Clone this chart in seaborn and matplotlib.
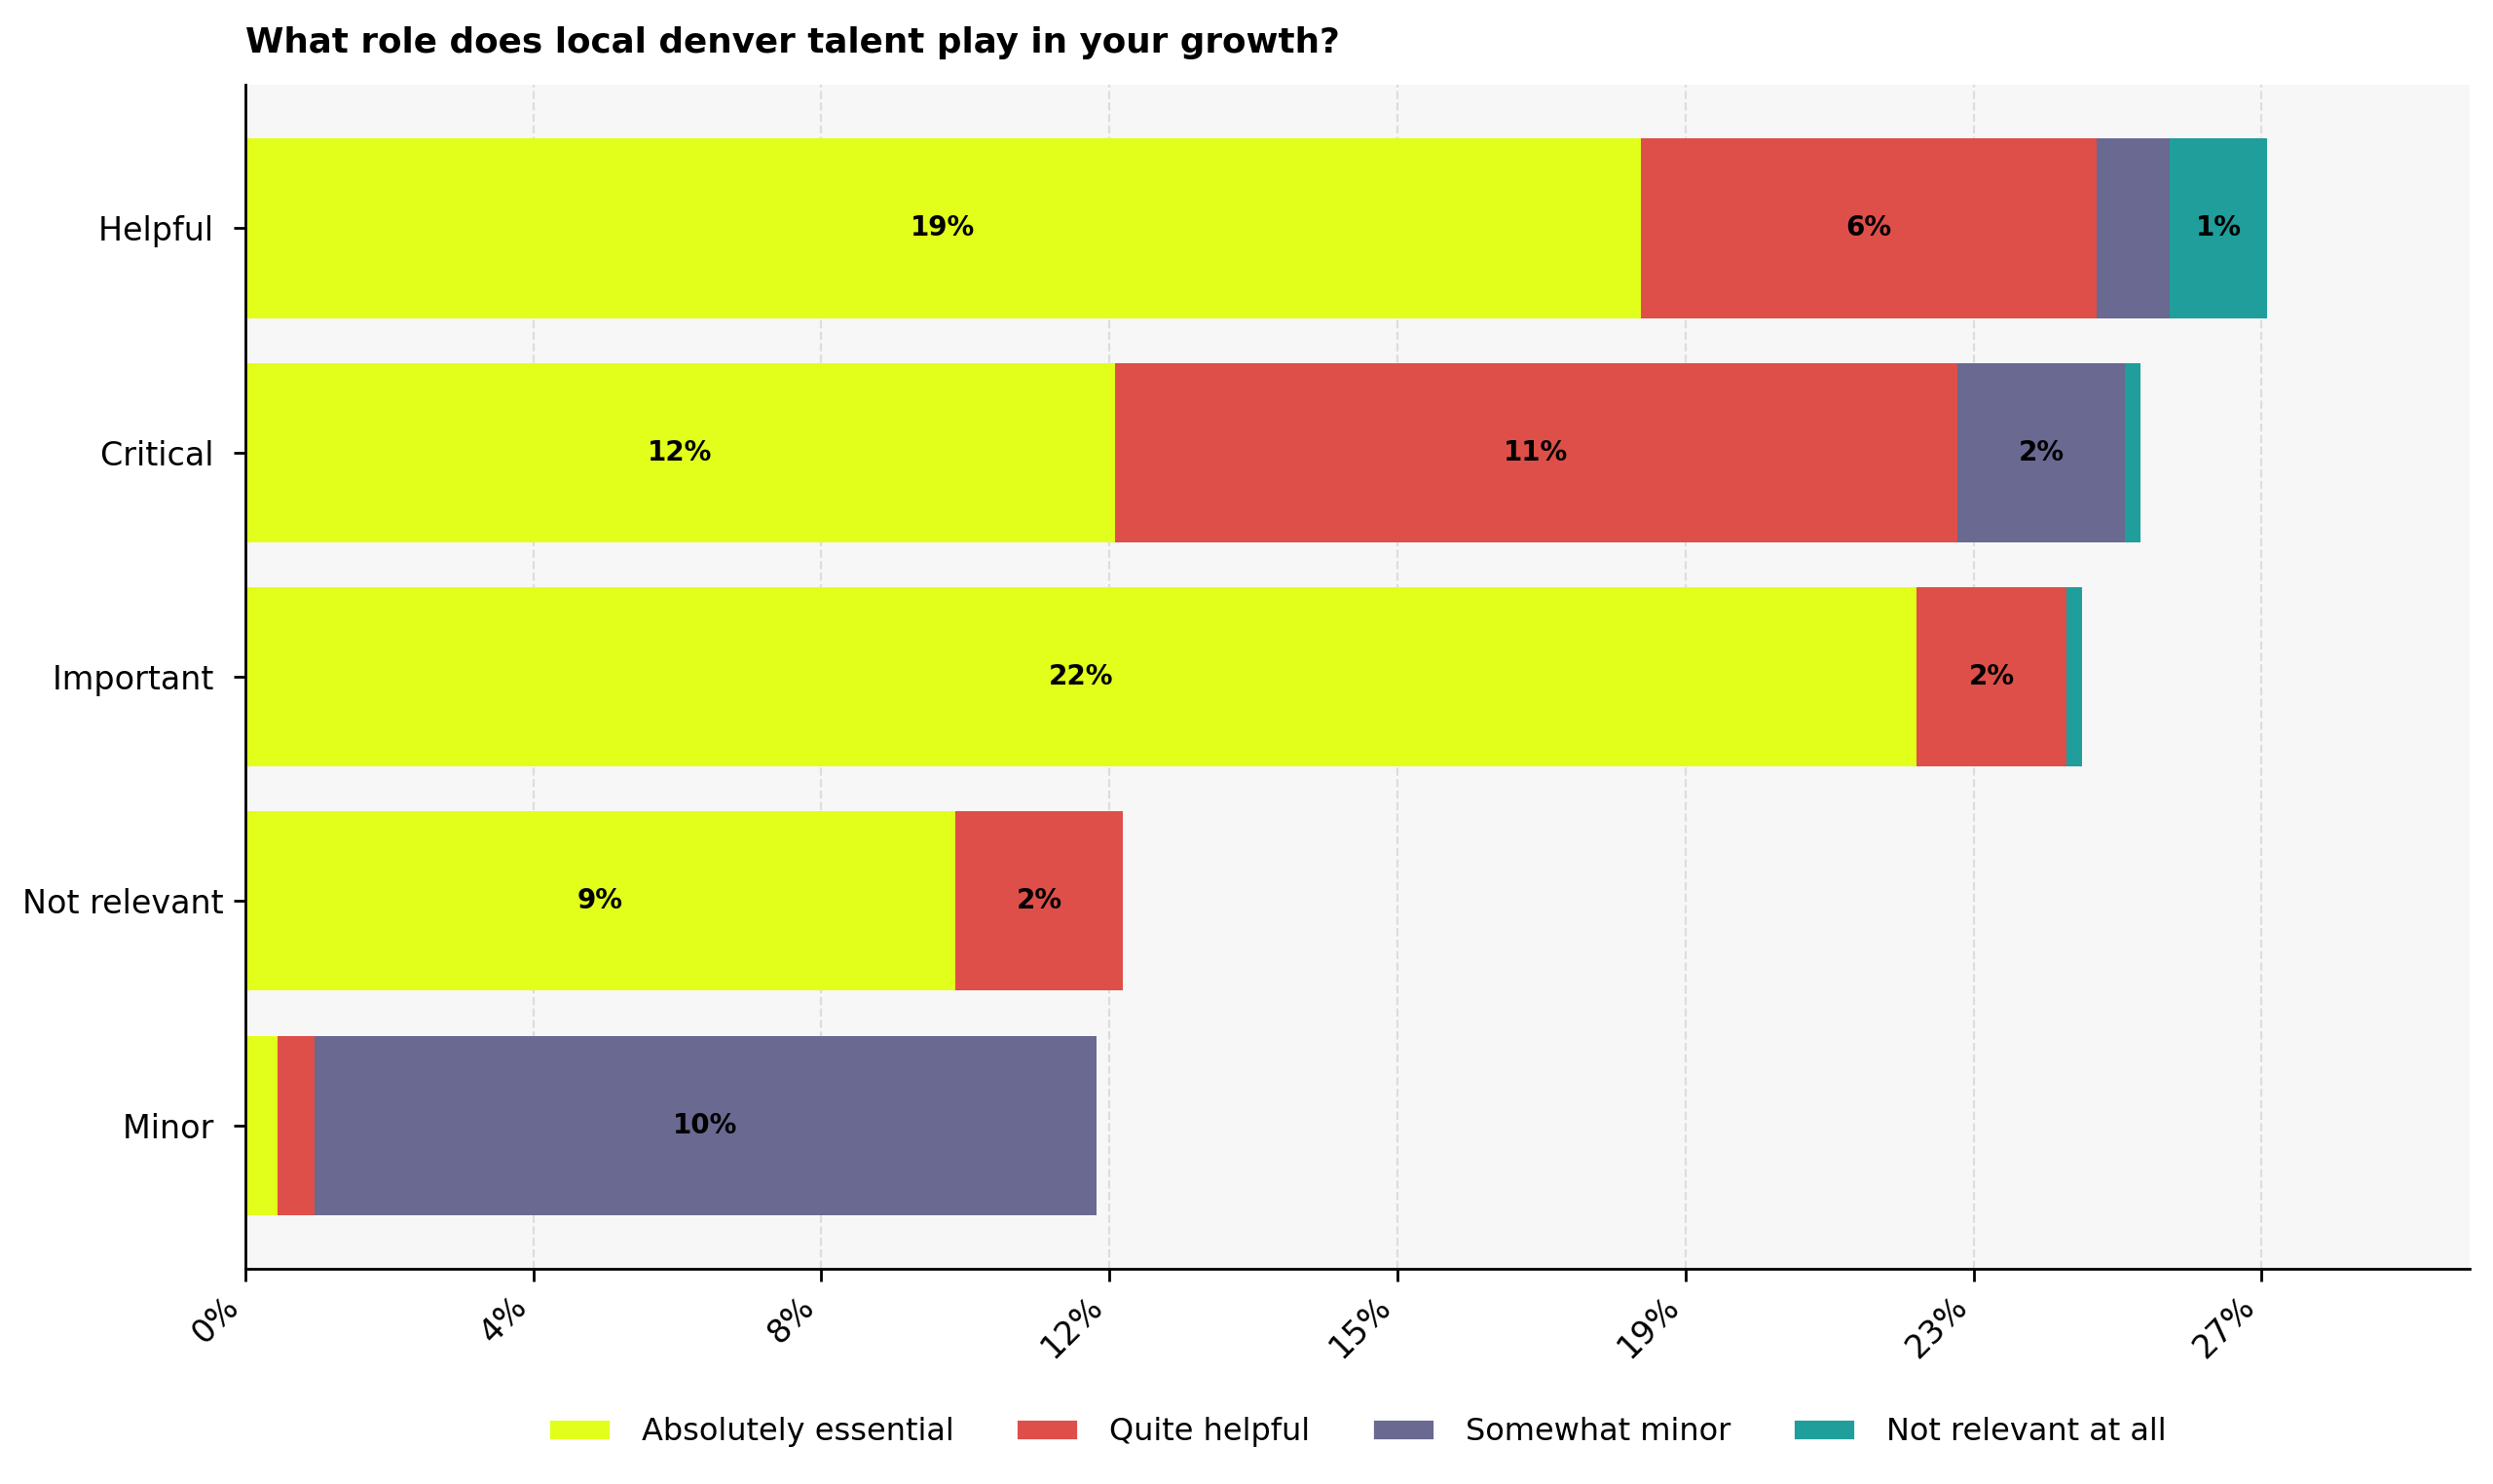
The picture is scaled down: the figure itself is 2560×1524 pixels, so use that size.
import numpy as np
import pandas as pd
import matplotlib
matplotlib.use('Agg')
import matplotlib.pyplot as plt
from matplotlib.patches import Patch
import seaborn as sns

# 数据（占全部回答的百分比）
categories = ['Helpful ', 'Critical ', 'Important ', 'Not relevant', 'Minor ']
series_names = ['Absolutely essential', 'Quite helpful', 'Somewhat minor', 'Not relevant at all']
absolutely_essential = [18.63, 11.61, 22.31, 9.48, 0.43]
quite_helpful = [6.09, 11.25, 2.01, 2.24, 0.50]
somewhat_minor = [0.98, 2.24, 0.0, 0.0, 10.43]
not_relevant_at_all = [1.30, 0.20, 0.20, 0.0, 0.0]
colors = ['#e2ff1b', '#de4f49', '#696991', '#1f9e9b']
tick_step = 100 / 26

title = 'What role does local denver talent play in your growth?'

sns.set_theme(style='ticks', rc={
    'axes.facecolor': '#f7f7f7',
    'axes.edgecolor': 'black',
    'axes.linewidth': 1.0,
    'text.color': 'black',
    'axes.labelcolor': 'black',
    'xtick.color': 'black',
    'ytick.color': 'black',
    'xtick.major.size': 4.5,
    'ytick.major.size': 4.5,
    'xtick.major.width': 1.0,
    'ytick.major.width': 1.0,
})
plt.rcParams['font.family'] = ['DejaVu Sans']

df = pd.DataFrame({
    'category': categories,
    series_names[0]: absolutely_essential,
    series_names[1]: quite_helpful,
    series_names[2]: somewhat_minor,
    series_names[3]: not_relevant_at_all,
})
cum = df[series_names].cumsum(axis=1)

fig, ax = plt.subplots(figsize=(12.8, 7.62), dpi=200)
fig.subplots_adjust(left=0.0984, right=0.9906, top=0.9429, bottom=0.145)

# 堆叠：从最外层的累计值开始画
for name, c in reversed(list(zip(series_names, colors))):
    sns.barplot(x=cum[name], y=df['category'], orient='h', color=c,
                saturation=1, width=0.8, linewidth=0, ax=ax)

# 段内百分比标签
for i, cat in enumerate(categories):
    for name in series_names:
        v = df.loc[i, name]
        if v >= 1:
            ax.text(cum.loc[i, name] - v / 2, i, f'{v:.0f}%', ha='center', va='center',
                    fontsize=10, fontweight='bold', color='black')

total_max = cum[series_names[-1]].max()
ax.set_xlim(0, total_max * 1.1)
ax.set_ylim(len(categories) - 1 + 0.64, -0.64)

ticks = np.arange(8) * tick_step
ax.set_xticks(ticks)
ax.set_xticklabels([f'{t:.0f}%' for t in ticks], rotation=45, ha='right', fontsize=12)
ax.tick_params(axis='y', labelsize=12)
ax.set_xlabel('')
ax.set_ylabel('')

ax.grid(axis='x', linestyle='--', color='#dddddd', linewidth=0.8)
ax.set_axisbelow(True)
sns.despine(ax=ax)

ax.set_title(title, loc='left', fontsize=12.9, fontweight='bold', pad=12, color='black')

handles = [Patch(facecolor=c, label=n) for n, c in zip(series_names, colors)]
ax.legend(handles=handles, loc='center', bbox_to_anchor=(0.5, -0.138), ncol=4,
          frameon=False, fontsize=11.5, handlelength=2.0, handletextpad=1.0,
          columnspacing=2.0)

plt.savefig('out.png', dpi=200)
plt.close()
